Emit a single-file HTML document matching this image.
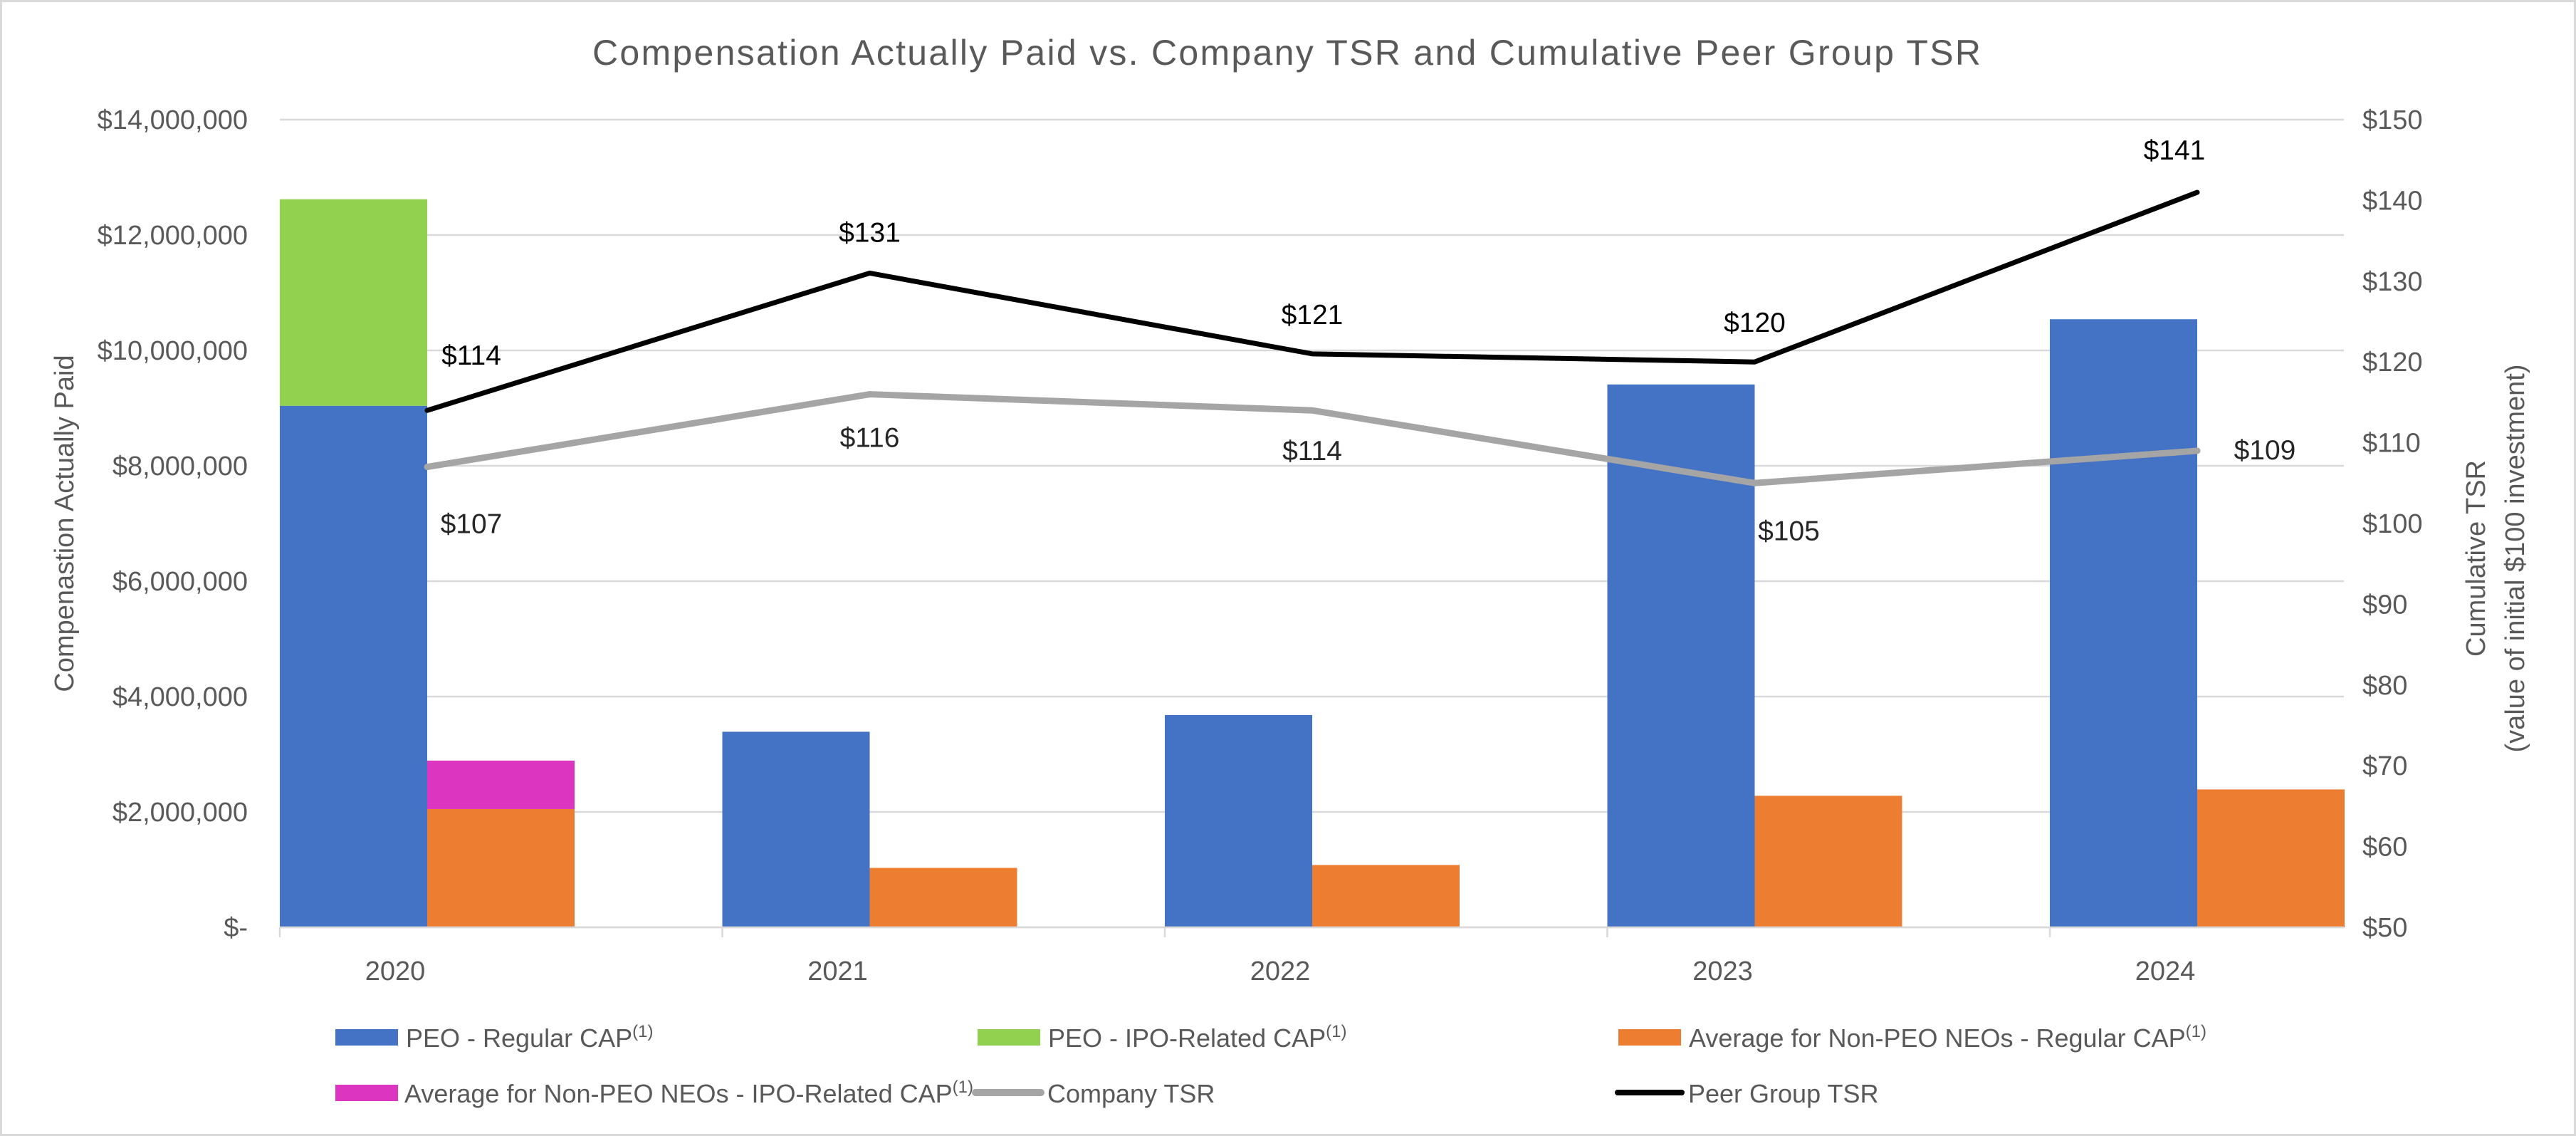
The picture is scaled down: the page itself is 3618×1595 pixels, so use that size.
<!DOCTYPE html>
<html><head><meta charset="utf-8"><style>
html,body{margin:0;padding:0;background:#fff;}
svg{display:block;font-family:"Liberation Sans",sans-serif;}
</style></head><body>
<svg id="chart" width="3618" height="1595" viewBox="0 0 3618 1595" xmlns="http://www.w3.org/2000/svg">
<rect x="1.5" y="1.5" width="3615" height="1592" fill="#fff" stroke="#d9d9d9" stroke-width="3"/>
<text x="1807" y="91" text-anchor="middle" font-size="50" fill="#595959" textLength="1950">Compensation Actually Paid vs. Company TSR and Cumulative Peer Group TSR</text>
<text transform="translate(103,735) rotate(-90)" text-anchor="middle" font-size="38" fill="#595959">Compenastion Actually Paid</text>
<text transform="translate(3490,784) rotate(-90)" text-anchor="middle" font-size="38" fill="#595959">Cumulative TSR</text>
<text transform="translate(3545,784) rotate(-90)" text-anchor="middle" font-size="38" fill="#595959">(value of initial $100 investment)</text>
<g id="grid"></g><g id="bars"></g><g id="lines"></g><g id="labels"></g><g id="axes"></g>
<g id="legend" font-size="36" fill="#595959">
<rect x="471" y="1445" width="88" height="23" fill="#4472c4"/>
<text x="570" y="1470">PEO - Regular CAP<tspan font-size="24" dy="-14">(1)</tspan></text>
<rect x="1373" y="1445" width="88" height="23" fill="#92d050"/>
<text x="1472" y="1470">PEO - IPO-Related CAP<tspan font-size="24" dy="-14">(1)</tspan></text>
<rect x="2273" y="1445" width="88" height="23" fill="#ed7d31"/>
<text x="2372" y="1470">Average for Non-PEO NEOs - Regular CAP<tspan font-size="24" dy="-14">(1)</tspan></text>
<rect x="471" y="1523" width="88" height="23" fill="#dc36c0"/>
<text x="568" y="1548">Average for Non-PEO NEOs - IPO-Related CAP<tspan font-size="24" dy="-14">(1)</tspan></text>
<line x1="1370" y1="1534" x2="1462" y2="1534" stroke="#a5a5a5" stroke-width="10" stroke-linecap="round"/>
<text x="1471" y="1548">Company TSR</text>
<line x1="2272" y1="1534" x2="2362" y2="1534" stroke="#000" stroke-width="8" stroke-linecap="round"/>
<text x="2371" y="1548">Peer Group TSR</text>
</g>
</svg>
<script>
const years = ["2020","2021","2022","2023","2024"];
const peoRegular = [9040000, 3390000, 3680000, 9410000, 10540000];
const peoIpo = [3580000, 0, 0, 0, 0];
const neoRegular = [2050000, 1030000, 1080000, 2280000, 2390000];
const neoIpo = [840000, 0, 0, 0, 0];
const companyTsr = [107, 116, 114, 105, 109];
const peerTsr = [114, 131, 121, 120, 141];
const leftTicks = [0, 2000000, 4000000, 6000000, 8000000, 10000000, 12000000, 14000000];
const leftTickLabels = ["$-", "$2,000,000", "$4,000,000", "$6,000,000", "$8,000,000", "$10,000,000", "$12,000,000", "$14,000,000"];
const rightTicks = [50, 60, 70, 80, 90, 100, 110, 120, 130, 140, 150];

const NS = "http://www.w3.org/2000/svg";
const X0 = 393, X1 = 3292, Y0 = 1302, Y1 = 168, STEP = 621.5, BW = 207;
const yL = v => Y0 - (v / 14000000) * (Y0 - Y1);
const yR = v => Y0 - ((v - 50) / 100) * (Y0 - Y1);
const gx = i => X0 + i * STEP;
function mk(tag, attrs, parent, txt) {
  const e = document.createElementNS(NS, tag);
  for (const k in attrs) e.setAttribute(k, attrs[k]);
  if (txt !== undefined) e.textContent = txt;
  document.getElementById(parent).appendChild(e);
  return e;
}
leftTicks.forEach((t, i) => {
  const g = mk("line", {x1: X0, x2: X1, y1: yL(t), y2: yL(t), stroke: "#d9d9d9", "stroke-width": 2.5}, "grid");
  
  
  const l = mk("text", {x: 348, y: yL(t) + 13, "text-anchor": "end", "font-size": 38, fill: "#595959"}, "axes", leftTickLabels[i]);
  
  
});
rightTicks.forEach(t => {
  const l = mk("text", {x: 3318, y: yR(t) + 13, "font-size": 38, fill: "#595959"}, "axes", "$" + t);
  
  
});
years.forEach((y, i) => {
  const x = gx(i);
  const tk = mk("line", {x1: x, x2: x, y1: Y0, y2: Y0 + 14, stroke: "#d9d9d9", "stroke-width": 2.5}, "axes");
  
  
  const lb = mk("text", {x: x + 162, y: 1376, "text-anchor": "middle", "font-size": 38, fill: "#595959"}, "axes", y);
  
  
  const b1 = mk("rect", {x: x, y: yL(peoRegular[i]), width: BW, height: Y0 - yL(peoRegular[i]), fill: "#4472c4"}, "bars");
  
  
  if (peoIpo[i] > 0) {
    const b2 = mk("rect", {x: x, y: yL(peoRegular[i] + peoIpo[i]), width: BW, height: yL(peoRegular[i]) - yL(peoRegular[i] + peoIpo[i]), fill: "#92d050"}, "bars");
    
    
  }
  const b3 = mk("rect", {x: x + BW, y: yL(neoRegular[i]), width: BW, height: Y0 - yL(neoRegular[i]), fill: "#ed7d31"}, "bars");
  
  
  if (neoIpo[i] > 0) {
    const b4 = mk("rect", {x: x + BW, y: yL(neoRegular[i] + neoIpo[i]), width: BW, height: yL(neoRegular[i]) - yL(neoRegular[i] + neoIpo[i]), fill: "#dc36c0"}, "bars");
    
    
  }
});
const axisLine = mk("line", {x1: X0, x2: X1, y1: Y0, y2: Y0, stroke: "#d9d9d9", "stroke-width": 2.5}, "axes");


const lx = i => gx(i) + BW;
const cp = mk("polyline", {points: companyTsr.map((v, i) => lx(i) + "," + yR(v)).join(" "), fill: "none", stroke: "#a5a5a5", "stroke-width": 9, "stroke-linejoin": "round", "stroke-linecap": "round"}, "lines");


const pp = mk("polyline", {points: peerTsr.map((v, i) => lx(i) + "," + yR(v)).join(" "), fill: "none", stroke: "#000", "stroke-width": 7, "stroke-linejoin": "round", "stroke-linecap": "round"}, "lines");


// label offsets (dx, dy) relative to point
const peerOff = [[62, -64], [0, -44], [0, -42], [0, -42], [-32, -46]];
const compOff = [[62, 93], [0, 74], [0, 70], [48, 80], [95, 12]];
peerTsr.forEach((v, i) => {
  const t = mk("text", {x: lx(i) + peerOff[i][0], y: yR(v) + peerOff[i][1], "text-anchor": "middle", "font-size": 39, fill: "#000"}, "labels", "$" + v);
  
  
});
companyTsr.forEach((v, i) => {
  const t = mk("text", {x: lx(i) + compOff[i][0], y: yR(v) + compOff[i][1], "text-anchor": "middle", "font-size": 39, fill: "#262626"}, "labels", "$" + v);
  
  
});
</script>
</body></html>
